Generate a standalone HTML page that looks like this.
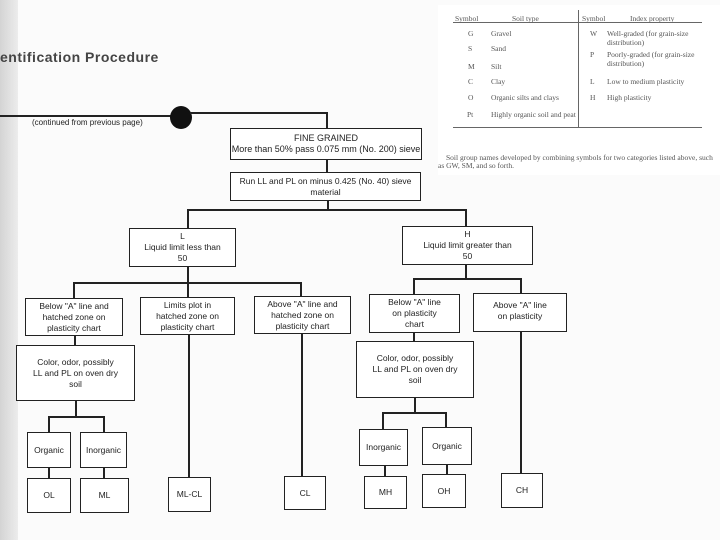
<!DOCTYPE html>
<html><head><meta charset="utf-8"><style>
body{margin:0;width:720px;height:540px;background:#fbfbfb;position:relative;overflow:hidden;font-family:"Liberation Sans",sans-serif;color:#222}
.b{position:absolute;border:1.5px solid #222;background:#fff;box-sizing:border-box;display:flex;align-items:center;justify-content:center;text-align:center;font-size:8.5px;line-height:11px}
.h{position:absolute;height:2px;background:#222}
.v{position:absolute;width:2px;background:#222}
.t{position:absolute;font-family:"Liberation Serif",serif;font-size:7.5px;color:#555;white-space:nowrap}
</style></head><body>
<div style="position:absolute;left:0;top:0;width:18px;height:540px;background:linear-gradient(90deg,#d4d4d4,#ececec)"></div>
<div style="position:absolute;left:0;top:49px;font-size:14px;font-weight:bold;color:#444;letter-spacing:0.5px">entification Procedure</div>
<div class="h" style="left:0;top:115px;width:175px"></div>
<div style="position:absolute;left:170px;top:106px;width:22px;height:23px;border-radius:50%;background:#111"></div>
<div style="position:absolute;left:32px;top:118px;font-size:8px">(continued from previous page)</div>
<div class="h" style="left:190px;top:112px;width:138px"></div>
<div class="v" style="left:326px;top:112px;height:16px"></div>
<div class="b" style="left:230px;top:128px;width:192px;height:32px;font-size:9px">FINE GRAINED<br>More than 50% pass 0.075 mm (No. 200) sieve</div>
<div class="v" style="left:326px;top:160px;height:12px"></div>
<div class="b" style="left:230px;top:172px;width:191px;height:29px">Run LL and PL on minus 0.425 (No. 40) sieve<br>material</div>
<div class="v" style="left:327px;top:201px;height:10px"></div>
<div class="h" style="left:187px;top:209px;width:280px"></div>
<div class="v" style="left:187px;top:209px;height:19px"></div>
<div class="v" style="left:465px;top:209px;height:17px"></div>
<div class="b" style="left:129px;top:228px;width:107px;height:39px">L<br>Liquid limit less than<br>50</div>
<div class="b" style="left:402px;top:226px;width:131px;height:39px">H<br>Liquid limit greater than<br>50</div>
<div class="v" style="left:187px;top:267px;height:16px"></div>
<div class="h" style="left:73px;top:282px;width:229px"></div>
<div class="v" style="left:73px;top:282px;height:16px"></div>
<div class="v" style="left:187px;top:282px;height:15px"></div>
<div class="v" style="left:300px;top:282px;height:14px"></div>
<div class="v" style="left:465px;top:265px;height:14px"></div>
<div class="h" style="left:413px;top:278px;width:109px"></div>
<div class="v" style="left:413px;top:278px;height:16px"></div>
<div class="v" style="left:520px;top:278px;height:15px"></div>
<div class="b" style="left:25px;top:298px;width:98px;height:38px">Below "A" line and<br>hatched zone on<br>plasticity chart</div>
<div class="b" style="left:140px;top:297px;width:95px;height:38px">Limits plot in<br>hatched zone on<br>plasticity chart</div>
<div class="b" style="left:254px;top:296px;width:97px;height:38px">Above "A" line and<br>hatched zone on<br>plasticity chart</div>
<div class="b" style="left:369px;top:294px;width:91px;height:39px">Below "A" line<br>on plasticity<br>chart</div>
<div class="b" style="left:473px;top:293px;width:94px;height:39px;align-items:flex-start;padding-top:6px">Above "A" line<br>on plasticity</div>
<div class="v" style="left:74px;top:336px;height:9px"></div>
<div class="b" style="left:16px;top:345px;width:119px;height:56px">Color, odor, possibly<br>LL and PL on oven dry<br>soil</div>
<div class="v" style="left:413px;top:333px;height:8px"></div>
<div class="b" style="left:356px;top:341px;width:118px;height:57px">Color, odor, possibly<br>LL and PL on oven dry<br>soil</div>
<div class="v" style="left:75px;top:401px;height:17px"></div>
<div class="h" style="left:48px;top:416px;width:57px"></div>
<div class="v" style="left:48px;top:416px;height:16px"></div>
<div class="v" style="left:103px;top:416px;height:16px"></div>
<div class="v" style="left:414px;top:398px;height:15px"></div>
<div class="h" style="left:382px;top:412px;width:65px"></div>
<div class="v" style="left:382px;top:412px;height:17px"></div>
<div class="v" style="left:445px;top:412px;height:15px"></div>
<div class="b" style="left:27px;top:432px;width:44px;height:36px">Organic</div>
<div class="b" style="left:80px;top:432px;width:47px;height:36px">Inorganic</div>
<div class="b" style="left:359px;top:429px;width:49px;height:37px">Inorganic</div>
<div class="b" style="left:422px;top:427px;width:50px;height:38px">Organic</div>
<div class="v" style="left:48px;top:468px;height:10px"></div>
<div class="v" style="left:103px;top:468px;height:10px"></div>
<div class="v" style="left:188px;top:335px;height:142px"></div>
<div class="v" style="left:301px;top:334px;height:142px"></div>
<div class="v" style="left:520px;top:332px;height:141px"></div>
<div class="v" style="left:384px;top:466px;height:10px"></div>
<div class="v" style="left:446px;top:465px;height:9px"></div>
<div class="b" style="left:27px;top:478px;width:44px;height:35px">OL</div>
<div class="b" style="left:80px;top:478px;width:49px;height:35px">ML</div>
<div class="b" style="left:168px;top:477px;width:43px;height:35px">ML-CL</div>
<div class="b" style="left:284px;top:476px;width:42px;height:34px">CL</div>
<div class="b" style="left:364px;top:476px;width:43px;height:33px">MH</div>
<div class="b" style="left:422px;top:474px;width:44px;height:34px">OH</div>
<div class="b" style="left:501px;top:473px;width:42px;height:35px">CH</div>
<div style="position:absolute;left:438px;top:5px;width:282px;height:170px;background:#fff"></div>
<div class="t" style="left:455px;top:14px">Symbol</div><div class="t" style="left:512px;top:14px">Soil type</div>
<div class="t" style="left:582px;top:14px">Symbol</div><div class="t" style="left:630px;top:14px">Index property</div>
<div style="position:absolute;left:453px;top:22px;width:249px;height:1px;background:#666"></div>
<div style="position:absolute;left:453px;top:127px;width:249px;height:1px;background:#666"></div>
<div style="position:absolute;left:578px;top:10px;width:1px;height:117px;background:#666"></div>
<div class="t" style="left:468px;top:29px">G</div><div class="t" style="left:491px;top:29px">Gravel</div>
<div class="t" style="left:468px;top:44px">S</div><div class="t" style="left:491px;top:44px">Sand</div>
<div class="t" style="left:468px;top:62px">M</div><div class="t" style="left:491px;top:62px">Silt</div>
<div class="t" style="left:468px;top:77px">C</div><div class="t" style="left:491px;top:77px">Clay</div>
<div class="t" style="left:468px;top:93px">O</div><div class="t" style="left:491px;top:93px">Organic silts and clays</div>
<div class="t" style="left:467px;top:110px">Pt</div><div class="t" style="left:491px;top:110px">Highly organic soil and peat</div>
<div class="t" style="left:590px;top:29px">W</div><div class="t" style="left:607px;top:29px;line-height:9px">Well-graded (for grain-size<br>distribution)</div>
<div class="t" style="left:590px;top:50px">P</div><div class="t" style="left:607px;top:50px;line-height:9px">Poorly-graded (for grain-size<br>distribution)</div>
<div class="t" style="left:590px;top:77px">L</div><div class="t" style="left:607px;top:77px">Low to medium plasticity</div>
<div class="t" style="left:590px;top:93px">H</div><div class="t" style="left:607px;top:93px">High plasticity</div>
<div class="t" style="left:446px;top:153px">Soil group names developed by combining symbols for two categories listed above, such</div>
<div class="t" style="left:438px;top:161px">as GW, SM, and so forth.</div>
</body></html>
